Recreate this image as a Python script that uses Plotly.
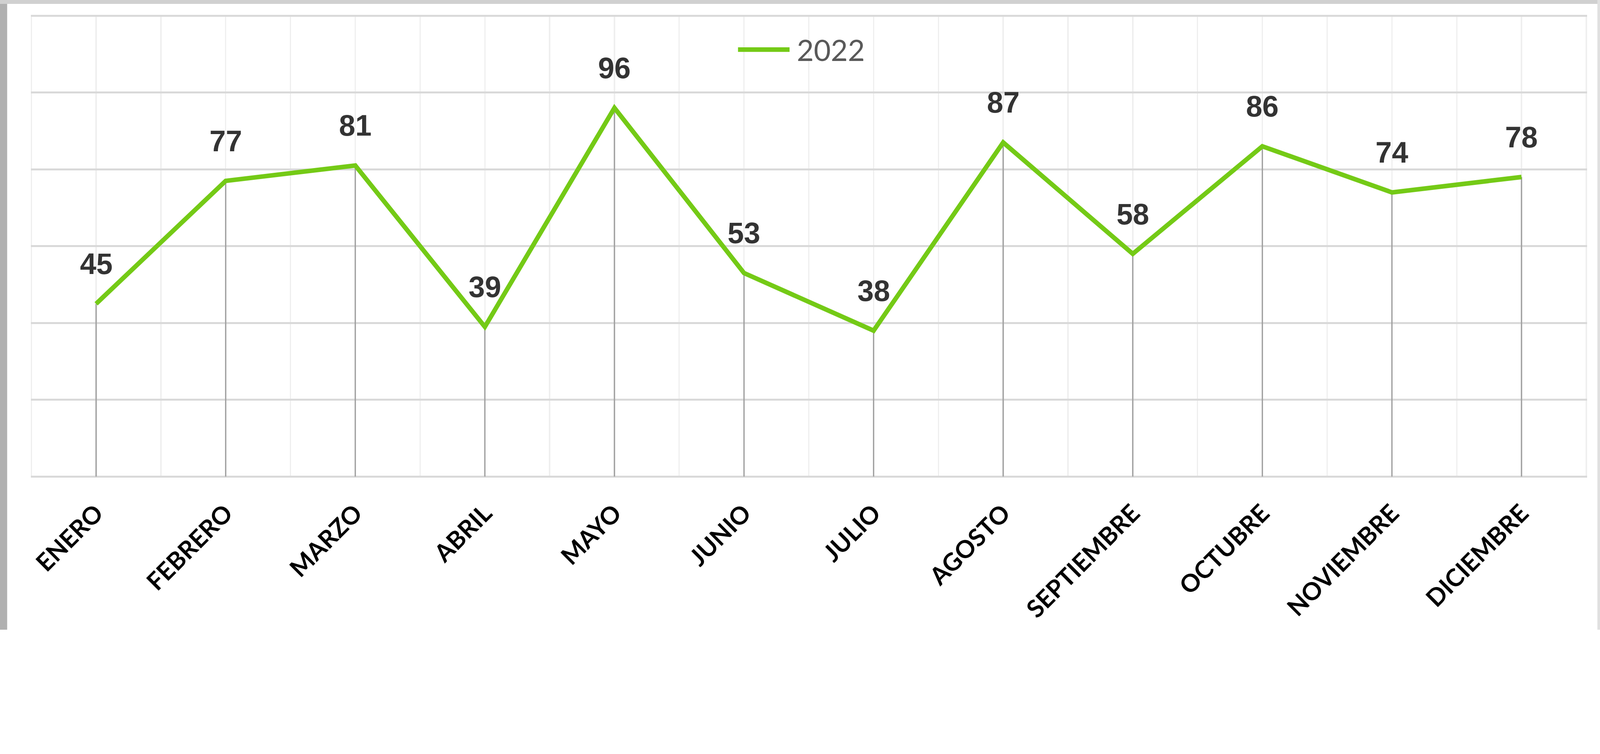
import plotly.graph_objects as go

# ---- data ----
months = ["ENERO", "FEBRERO", "MARZO", "ABRIL", "MAYO", "JUNIO",
          "JULIO", "AGOSTO", "SEPTIEMBRE", "OCTUBRE", "NOVIEMBRE", "DICIEMBRE"]
values_2022 = [45, 77, 81, 39, 96, 53, 38, 87, 58, 86, 74, 78]
series_name = "2022"

# ---- geometry / style ----
W, H = 4904, 1929
ML, MR, MT, MB = 94, 40, 47, 468
PW, PH = W - ML - MR, H - MT - MB
GREEN = "#74ca16"

xpos = list(range(len(months)))

fig = go.Figure()
fig.add_trace(go.Scatter(
    x=xpos, y=values_2022, mode="lines", name=series_name,
    line=dict(color=GREEN, width=14),
    error_y=dict(type="data", symmetric=False, array=[0] * len(values_2022),
                 arrayminus=values_2022, width=0, thickness=4, color="#a0a0a0"),
    hoverinfo="x+y", showlegend=False,
))


def fx(px):
    return (px - ML) / PW


def fy(py):
    return 1 - (py - MT) / PH


annotations = []
for xi, v in zip(xpos, values_2022):
    annotations.append(dict(
        x=xi, y=v, xref="x", yref="y", text=str(v), showarrow=False,
        yshift=122,
        font=dict(family="Liberation Sans", size=90, color="#333333", weight="bold"),
    ))

# legend (series name) drawn as text + swatch
annotations.append(dict(
    x=fx(2440), y=fy(152), xref="paper", yref="paper", text=series_name,
    showarrow=False, xanchor="left", yanchor="middle",
    font=dict(family="Lato", size=90, color="#595959"),
))

shapes = [
    dict(type="line", xref="paper", yref="paper", x0=fx(2262), x1=fx(2420),
         y0=fy(152), y1=fy(152), line=dict(color=GREEN, width=14)),
    # outer frame (screenshot border)
    dict(type="rect", xref="paper", yref="paper", x0=fx(0), x1=fx(22), y0=fy(H), y1=fy(0),
         fillcolor="#b0b0b0", line=dict(width=0), layer="above"),
    dict(type="rect", xref="paper", yref="paper", x0=fx(0), x1=fx(W), y0=fy(12), y1=fy(0),
         fillcolor="#d0d0d0", line=dict(width=0), layer="above"),
    dict(type="rect", xref="paper", yref="paper", x0=fx(W - 8), x1=fx(W), y0=fy(H), y1=fy(0),
         fillcolor="#e0e0e0", line=dict(width=0), layer="above"),
]

fig.update_layout(
    width=W, height=H,
    margin=dict(l=ML, r=MR, t=MT, b=MB),
    paper_bgcolor="white", plot_bgcolor="white",
    showlegend=False,
    annotations=annotations,
    shapes=shapes,
    xaxis=dict(
        range=[-0.505, len(months) - 0.495],
        tickmode="array", tickvals=xpos, ticktext=months, tickangle=-45,
        tickfont=dict(family="Lato", size=75, color="#000000", weight="bold"),
        ticks="outside", ticklen=36, tickcolor="rgba(0,0,0,0)",
        showgrid=True, gridcolor="#efefef", gridwidth=4,
        minor=dict(tick0=-0.5, dtick=1, showgrid=True, gridcolor="#efefef", gridwidth=4),
        zeroline=False, showline=False,
    ),
    yaxis=dict(
        range=[-0.1, 120.1], dtick=20, showticklabels=False,
        showgrid=True, gridcolor="#d9d9d9", gridwidth=6,
        zeroline=True, zerolinecolor="#d9d9d9", zerolinewidth=6, showline=False,
    ),
)

# scale the fixed-size figure so it fits the browser viewport without cropping
post_js = """
document.body.style.margin = '0';
var z = Math.min(window.innerWidth / %d, window.innerHeight / %d);
if (Math.abs(z - 1) > 0.001) { document.body.style.zoom = z; }
""" % (W, H)

fig.write_html("out.html", post_script=post_js,
               config={"displayModeBar": False})
